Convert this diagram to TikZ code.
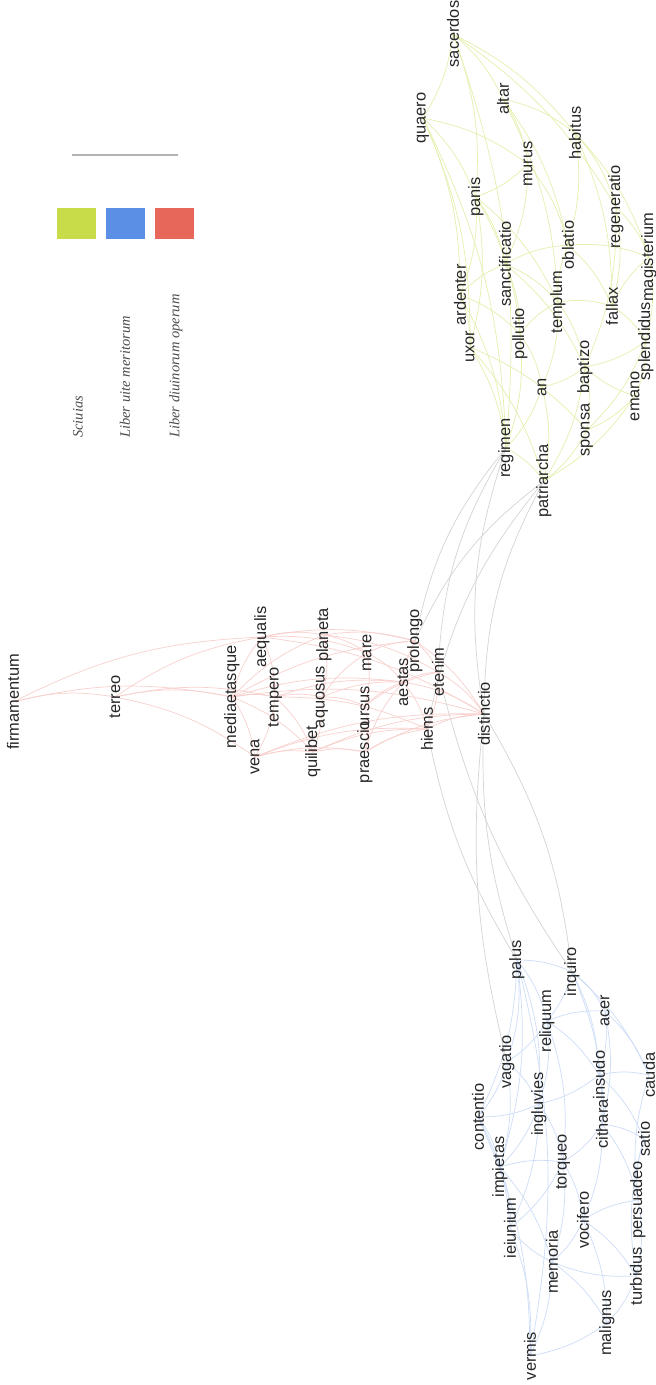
\documentclass[tikz,border=0pt]{standalone}
\usepackage{fontspec}
\setmainfont{Liberation Serif}
\setsansfont{Liberation Sans}
\usetikzlibrary{backgrounds}
\definecolor{scivias}{HTML}{C8DC4A}
\definecolor{vitae}{HTML}{5B8FE5}
\definecolor{operum}{HTML}{E8675B}

\begin{document}
\begin{tikzpicture}[
    x=1pt, y=-1pt,
    word/.style={rotate=90, inner sep=0pt, font=\sffamily\fontsize{16.4}{18}\selectfont, text=black!85},
    swatch/.style={fill=#1, draw=none, minimum width=39pt, minimum height=31pt, inner sep=0pt},
    legendtext/.style={rotate=90, anchor=west, inner sep=0pt, font=\itshape\fontsize{14.5}{16}\selectfont, text=black!70},
    legendline/.style={draw=black!30, line width=2pt},
    yedge/.style={draw=scivias!45, line width=0.7pt},
    redge/.style={draw=operum!30, line width=0.7pt},
    bedge/.style={draw=vitae!30, line width=0.7pt},
    gedge/.style={draw=black!17, line width=0.7pt},
]
\useasboundingbox (0,0) rectangle (656,1385);

% legend
\coordinate (lineL) at (72,155);
\coordinate (lineR) at (178,155);
\draw[legendline] (lineL) -- (lineR);
\node[swatch=scivias] (swY) at (76,223) {};
\node[swatch=vitae] (swB) at (125.5,223) {};
\node[swatch=operum] (swR) at (174,223) {};
\node[legendtext] (lgY) at (78,438) {Sciuias};
\node[legendtext] (lgB) at (125,438) {Liber uite meritorum};
\node[legendtext] (lgR) at (176,438) {Liber diuinorum operum};

% Sciuias
\node[word] (sacerdos) at (453,34) {sacerdos};
\node[word] (quaero) at (423,118) {quaero};
\node[word] (altar) at (503,99) {altar};
\node[word] (habitus) at (575,133) {habitus};
\node[word] (murus) at (528,164) {murus};
\node[word] (panis) at (476,197) {panis};
\node[word] (regeneratio) at (616,207) {regeneratio};
\node[word] (ardenter) at (460,295) {ardenter};
\node[word] (uxor) at (470,347) {uxor};
\node[word] (sanctificatio) at (505,264) {sanctificatio};
\node[word] (pollutio) at (520,334) {pollutio};
\node[word] (templum) at (558,302) {templum};
\node[word] (oblatio) at (568,245) {oblatio};
\node[word] (fallax) at (612,306) {fallax};
\node[word] (magisterium) at (649,257) {magisterium};
\node[word] (splendidus) at (646,341) {splendidus};
\node[word] (emano) at (635,396) {emano};
\node[word] (baptizo) at (585,367) {baptizo};
\node[word] (an) at (542,387) {an};
\node[word] (sponsa) at (587,430) {sponsa};
\node[word] (regimen) at (506,448) {regimen};
\node[word] (patriarcha) at (544,481) {patriarcha};

% Liber diuinorum operum
\node[word] (firmamentum) at (13,702) {firmamentum};
\node[word] (terreo) at (115,697) {terreo};
\node[word] (mediaetasque) at (232,697) {mediaetasque};
\node[word] (aequalis) at (262,637) {aequalis};
\node[word] (tempero) at (275,697) {tempero};
\node[word] (vena) at (255,757) {vena};
\node[word] (planeta) at (324,635) {planeta};
\node[word] (aquosus) at (322,697) {aquosus};
\node[word] (quilibet) at (313,752) {quilibet};
\node[word] (mare) at (367,653) {mare};
\node[word] (ursus) at (365,706) {ursus};
\node[word] (praescio) at (365,752) {praescio};
\node[word] (aestas) at (403,682) {aestas};
\node[word] (prolongo) at (415,641) {prolongo};
\node[word] (etenim) at (438,672) {etenim};
\node[word] (hiems) at (427,729) {hiems};
\node[word] (distinctio) at (484,714) {distinctio};

% Liber uite meritorum
\node[word] (palus) at (517,960) {palus};
\node[word] (inquiro) at (572,972) {inquiro};
\node[word] (reliquum) at (547,1021) {reliquum};
\node[word] (acer) at (605,1011) {acer};
\node[word] (vagatio) at (507,1062) {vagatio};
\node[word] (insudo) at (599,1075) {insudo};
\node[word] (cithara) at (602,1124) {cithara};
\node[word] (ingluvies) at (539,1104) {ingluvies};
\node[word] (contentio) at (478,1117) {contentio};
\node[word] (impietas) at (500,1167) {impietas};
\node[word] (torqueo) at (563,1162) {torqueo};
\node[word] (ieiunium) at (510,1228) {ieiunium};
\node[word] (vocifero) at (583,1220) {vocifero};
\node[word] (memoria) at (552,1262) {memoria};
\node[word] (persuadeo) at (638,1200) {persuadeo};
\node[word] (turbidus) at (636,1276) {turbidus};
\node[word] (malignus) at (607,1323) {malignus};
\node[word] (vermis) at (530,1356) {vermis};
\node[word] (cauda) at (649,1075) {cauda};
\node[word] (satio) at (644,1139) {satio};

\begin{scope}[on background layer]
\fill[white] (0,0) rectangle (656,1385);
\foreach \a/\b in {sacerdos/quaero, sacerdos/altar, sacerdos/habitus, sacerdos/regeneratio, sacerdos/panis,
    quaero/panis, quaero/murus, quaero/ardenter, quaero/regimen, quaero/uxor, altar/murus, altar/habitus,
    altar/oblatio, altar/templum, habitus/regeneratio, habitus/oblatio, habitus/fallax, habitus/magisterium,
    murus/panis, murus/oblatio, murus/sanctificatio, panis/sanctificatio, panis/ardenter, panis/uxor,
    panis/templum, panis/pollutio, regeneratio/magisterium, regeneratio/fallax, regeneratio/baptizo,
    ardenter/uxor, ardenter/sanctificatio, ardenter/pollutio, ardenter/regimen, uxor/sponsa, uxor/regimen,
    uxor/patriarcha, sanctificatio/templum, sanctificatio/oblatio, sanctificatio/pollutio, sanctificatio/baptizo,
    pollutio/an, pollutio/templum, pollutio/regimen, templum/oblatio, templum/fallax, templum/baptizo, templum/an,
    oblatio/magisterium, oblatio/fallax, fallax/splendidus, fallax/magisterium, magisterium/splendidus,
    splendidus/emano, splendidus/baptizo, splendidus/sponsa, emano/sponsa, emano/baptizo, emano/patriarcha,
    baptizo/sponsa, baptizo/an, baptizo/patriarcha, an/regimen, an/patriarcha, sponsa/patriarcha,
    regimen/patriarcha, sacerdos/regimen}
  \draw[yedge] (\a.center) to[bend left=12] (\b.center);
\foreach \a/\b in {firmamentum/terreo, firmamentum/mediaetasque, firmamentum/aequalis, terreo/mediaetasque,
    terreo/tempero, terreo/vena, terreo/aequalis, mediaetasque/aequalis, mediaetasque/tempero, mediaetasque/vena,
    mediaetasque/planeta, mediaetasque/quilibet, mediaetasque/aestas, mediaetasque/distinctio, mediaetasque/prolongo,
    aequalis/tempero, aequalis/planeta, aequalis/mare, aequalis/prolongo, aequalis/distinctio, tempero/vena,
    tempero/aquosus, tempero/quilibet, tempero/aestas, tempero/hiems, vena/quilibet, vena/praescio, vena/hiems,
    vena/distinctio, planeta/aquosus, planeta/mare, planeta/prolongo, planeta/etenim, aquosus/quilibet,
    aquosus/ursus, aquosus/mare, aquosus/aestas, quilibet/praescio, quilibet/hiems, quilibet/distinctio,
    mare/ursus, mare/aestas, mare/prolongo, ursus/praescio, ursus/aestas, ursus/etenim, praescio/hiems,
    praescio/aestas, praescio/distinctio, aestas/prolongo, aestas/etenim, aestas/hiems, aestas/distinctio,
    prolongo/etenim, prolongo/distinctio, etenim/hiems, etenim/distinctio, hiems/distinctio}
  \draw[redge] (\a.center) to[bend left=12] (\b.center);
\foreach \a/\b in {palus/inquiro, palus/reliquum, palus/vagatio, palus/contentio, palus/ingluvies, palus/impietas,
    palus/vermis, inquiro/reliquum, inquiro/acer, inquiro/insudo, inquiro/cithara, inquiro/cauda, reliquum/acer,
    reliquum/vagatio, reliquum/ingluvies, reliquum/insudo, reliquum/torqueo, acer/insudo, acer/cauda, acer/cithara,
    vagatio/contentio, vagatio/ingluvies, vagatio/impietas, insudo/cithara, insudo/ingluvies, insudo/cauda,
    insudo/satio, cithara/torqueo, cithara/satio, cithara/persuadeo, cithara/vocifero, ingluvies/contentio,
    ingluvies/torqueo, ingluvies/impietas, ingluvies/ieiunium, contentio/impietas, contentio/ieiunium,
    contentio/vermis, impietas/ieiunium, impietas/torqueo, impietas/memoria, torqueo/vocifero, torqueo/memoria,
    torqueo/ieiunium, vocifero/memoria, vocifero/persuadeo, vocifero/turbidus, vocifero/malignus,
    persuadeo/turbidus, persuadeo/satio, persuadeo/cauda, turbidus/malignus, turbidus/memoria, turbidus/satio,
    memoria/ieiunium, memoria/malignus, memoria/vermis, ieiunium/vermis, malignus/vermis}
  \draw[bedge] (\a.center) to[bend left=12] (\b.center);
% links between the works
\foreach \a/\b in {distinctio/regimen, distinctio/patriarcha, prolongo/regimen, prolongo/patriarcha,
    etenim/regimen, hiems/patriarcha}
  \draw[gedge] (\a.center) to[bend left=14] (\b.center);
\foreach \a/\b in {distinctio/palus, hiems/palus, etenim/inquiro, distinctio/vagatio}
  \draw[gedge] (\a.center) to[bend right=10] (\b.center);
\draw[gedge] (distinctio.center) to[bend left=12] (inquiro.center);
\end{scope}
\end{tikzpicture}
\end{document}
